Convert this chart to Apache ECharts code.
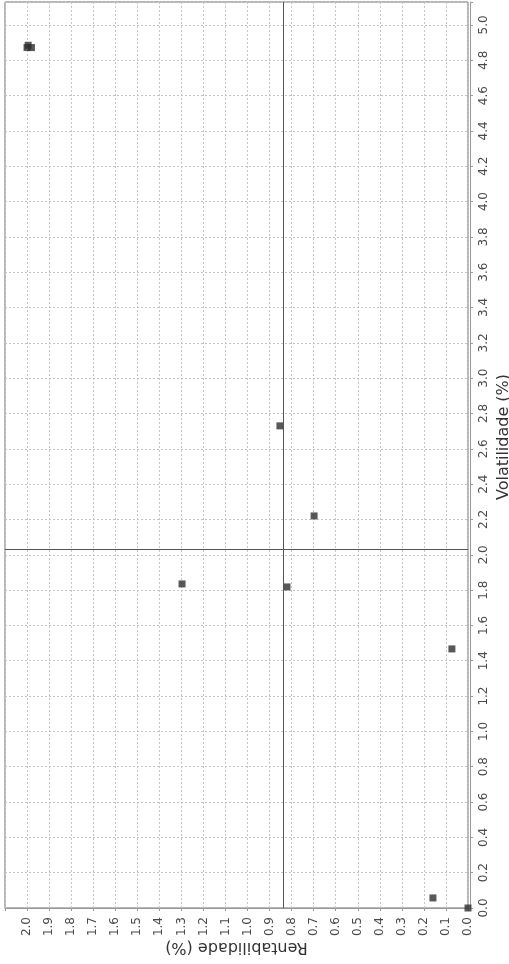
<!DOCTYPE html>
<html>
<head>
<meta charset="utf-8">
<script src="https://cdn.jsdelivr.net/npm/echarts@6/dist/echarts.min.js"></script>
<style>
html,body{margin:0;padding:0;background:#fff;overflow:hidden;width:509px;height:964px;}
#chart{width:509px;height:964px;position:absolute;left:0;top:0;}
</style>
</head>
<body>
<div id="chart"></div>
<script>
// Rentabilidade (%) — horizontal axis (drawn inverted, 2.0 on the left)
var rentabilidade = [1.995, 1.98, 2.00, 0.853, 0.698, 1.297, 0.821, 0.073, 0.159, 0.0];
// Volatilidade (%) — vertical axis on the right
var volatilidade  = [4.885, 4.872, 4.872, 2.73, 2.22, 1.835, 1.818, 1.467, 0.057, 0.0];
// Reference lines
var rentRef = 0.84;
var volRef = 2.03;
var rentAxisName = 'Rentabilidade (%)';
var volAxisName = 'Volatilidade (%)';

var points = rentabilidade.map(function (r, i) { return [r, volatilidade[i]]; });

var font = 'DejaVu Sans';
var chart = echarts.init(document.getElementById('chart'), null, { width: 509, height: 964 });
chart.setOption({
  backgroundColor: '#ffffff',
  animation: false,
  grid: {
    left: 5, right: 41, top: 2, bottom: 56,
    containLabel: false,
    outerBoundsMode: 'none',
    show: true, borderColor: '#6f6f6f', borderWidth: 1, backgroundColor: '#ffffff'
  },
  xAxis: {
    type: 'value',
    min: 0, max: 2.1, interval: 0.1,
    inverse: true,
    position: 'bottom',
    name: rentAxisName,
    nameLocation: 'middle',
    nameRotate: 180,
    nameGap: 31,
    nameMoveOverlap: false,
    nameTextStyle: { fontFamily: font, fontSize: 16, color: '#333' },
    axisLine: { show: true, onZero: false, lineStyle: { color: '#999', width: 1 } },
    axisTick: { show: true, length: 3, lineStyle: { color: '#999' } },
    axisLabel: {
      rotate: 90, margin: 9, fontFamily: font, fontSize: 12, color: '#4a4a4a',
      formatter: function (v) { return v > 2.05 ? '' : v.toFixed(1); }
    },
    splitLine: { show: true, lineStyle: { color: '#c4c4c4', type: [2, 2], width: 1 } }
  },
  yAxis: {
    type: 'value',
    min: 0, max: 5.13, interval: 0.2,
    position: 'right',
    offset: 2,
    name: volAxisName,
    nameLocation: 'middle',
    nameRotate: 90,
    nameGap: 26,
    nameMoveOverlap: false,
    nameTextStyle: { fontFamily: font, fontSize: 16, color: '#333', padding: [0, 0, 0, 36] },
    axisLine: { show: true, onZero: false, lineStyle: { color: '#999', width: 1 } },
    axisTick: { show: true, length: 3, lineStyle: { color: '#999' } },
    axisLabel: {
      rotate: 90, margin: 8, fontFamily: font, fontSize: 12, color: '#4a4a4a',
      formatter: function (v) { return v > 5.05 ? '' : v.toFixed(1); }
    },
    splitLine: { show: true, lineStyle: { color: '#c4c4c4', type: [2, 2], width: 1 } }
  },
  series: [{
    type: 'scatter',
    symbol: 'rect',
    symbolSize: 7,
    clip: true,
    itemStyle: { color: '#2e2e2e' },
    data: points,
    markLine: {
      silent: true,
      symbol: 'none',
      label: { show: false },
      lineStyle: { color: '#555', type: 'solid', width: 1 },
      data: [{ xAxis: rentRef }, { yAxis: volRef }]
    }
  }]
});
</script>
</body>
</html>
